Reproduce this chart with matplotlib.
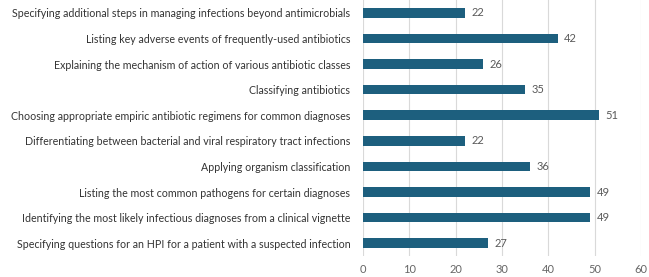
import matplotlib.pyplot as plt
import numpy as np

categories = [
    "Specifying additional steps in managing infections beyond antimicrobials",
    "Listing key adverse events of frequently-used antibiotics",
    "Explaining the mechanism of action of various antibiotic classes",
    "Classifying antibiotics",
    "Choosing appropriate empiric antibiotic regimens for common diagnoses",
    "Differentiating between bacterial and viral respiratory tract infections",
    "Applying organism classification",
    "Listing the most common pathogens for certain diagnoses",
    "Identifying the most likely infectious diagnoses from a clinical vignette",
    "Specifying questions for an HPI for a patient with a suspected infection",
]
values = [22, 42, 26, 35, 51, 22, 36, 49, 49, 27]
xticks = [0, 10, 20, 30, 40, 50, 60]

plt.rcParams['font.family'] = ['Lato', 'DejaVu Sans']

fig = plt.figure(figsize=(6.49, 2.77), dpi=100)
ax = fig.add_axes([0.5593, 0.0758, 0.4284, 0.9242])

y = np.arange(len(categories))
ax.barh(y, values, height=0.37, color='#1d5f7e', zorder=3)
for yi, v in zip(y, values):
    ax.text(v + 1.4, yi, str(v), va='center', ha='left', fontsize=8, color='#595959')

ax.set_yticks(y)
ax.set_yticklabels(categories, fontsize=7.7, color='#333333')
ax.set_ylim(len(categories) - 0.5, -0.5)
ax.set_xlim(0, 60)
ax.set_xticks(xticks)
ax.set_xticklabels([str(t) for t in xticks], fontsize=8, color='#666666')
ax.tick_params(axis='both', length=0)
ax.tick_params(axis='x', pad=6)
ax.tick_params(axis='y', pad=9)
ax.grid(axis='x', color='#d9d9d9', linewidth=0.8, zorder=0)
for s in ax.spines.values():
    s.set_visible(False)

fig.savefig('out.png', dpi=100)
